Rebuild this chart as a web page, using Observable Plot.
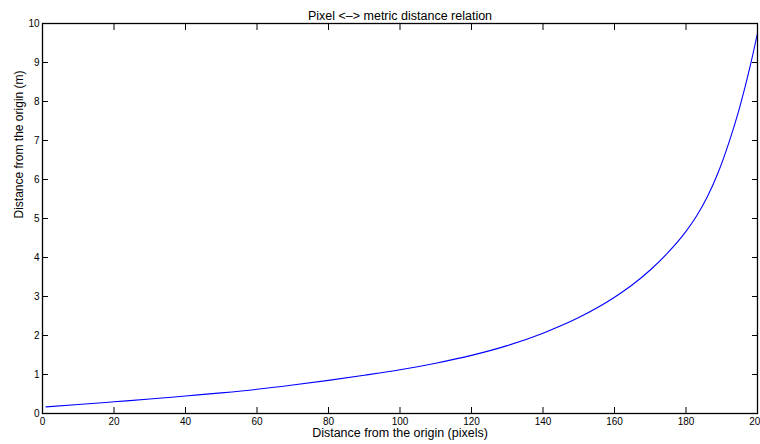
<!DOCTYPE html>
<html>
<head>
<meta charset="utf-8">
<script src="https://cdn.jsdelivr.net/npm/d3@7"></script>
<script src="https://cdn.jsdelivr.net/npm/@observablehq/plot@0.6"></script>
<style>
  html, body { margin: 0; padding: 0; background: #fff; overflow: hidden; }
</style>
</head>
<body>
<div id="chart"></div>
<script>
const pixels = [1, 10, 20, 30, 40, 50, 60, 70, 80, 90, 100, 110, 120, 130, 140, 150, 160, 165, 170, 175, 180, 183, 186, 189, 192, 195, 198, 200];
const meters = [0.17, 0.23, 0.30, 0.37, 0.45, 0.53, 0.62, 0.73, 0.85, 0.98, 1.12, 1.29, 1.49, 1.74, 2.06, 2.46, 2.98, 3.30, 3.68, 4.13, 4.67, 5.07, 5.565, 6.18, 6.945, 7.845, 8.925, 9.75];
const xTicks = [0, 20, 40, 60, 80, 100, 120, 140, 160, 180, 200];
const yTicks = [0, 1, 2, 3, 4, 5, 6, 7, 8, 9, 10];
const title = "Pixel <\u2013> metric distance relation";
const xLabel = "Distance from the origin (pixels)";
const yLabel = "Distance from the origin (m)";

const data = pixels.map((p, i) => ({p, m: meters[i]}));
const blank = () => "";
const font = "Liberation Sans, Arial, Helvetica, sans-serif";

const chart = Plot.plot({
  width: 760,
  height: 444,
  marginLeft: 42,
  marginRight: 3,
  marginTop: 23,
  marginBottom: 31,
  style: {fontFamily: font, fontSize: "10px", color: "#000", background: "#fff"},
  x: {domain: [0, 200]},
  y: {domain: [0, 10]},
  marks: [
    Plot.line(data, {x: "p", y: "m", stroke: "#0000ff", strokeWidth: 1.1, curve: "monotone-x"}),
    // inward ticks on all four sides
    Plot.axisX({anchor: "bottom", ticks: xTicks, tickSize: 6, dy: -6, tickFormat: blank, label: null, stroke: "#000"}),
    Plot.axisX({anchor: "top", ticks: xTicks, tickSize: 6, dy: 6, tickFormat: blank, label: null, stroke: "#000"}),
    Plot.axisY({anchor: "left", ticks: yTicks, tickSize: 6, dx: 6, tickFormat: blank, label: null, stroke: "#000"}),
    Plot.axisY({anchor: "right", ticks: yTicks, tickSize: 6, dx: -6, tickFormat: blank, label: null, stroke: "#000"}),
    // tick labels
    Plot.axisX({anchor: "bottom", ticks: xTicks, tickSize: 0, tickPadding: 4, label: null, fontSize: 10}),
    Plot.axisY({anchor: "left", ticks: yTicks, tickSize: 0, tickPadding: 3, label: null, fontSize: 10}),
    Plot.frame({stroke: "#000", strokeWidth: 1.3}),
    Plot.text([title], {text: d => d, frameAnchor: "top", dy: -12, fontSize: 12.5}),
    Plot.text([xLabel], {text: d => d, frameAnchor: "bottom", dy: 23, fontSize: 12.5}),
    Plot.text([yLabel], {text: d => d, frameAnchor: "left", dx: -23, rotate: -90, fontSize: 12})
  ]
});
document.getElementById("chart").appendChild(chart);
</script>
</body>
</html>
